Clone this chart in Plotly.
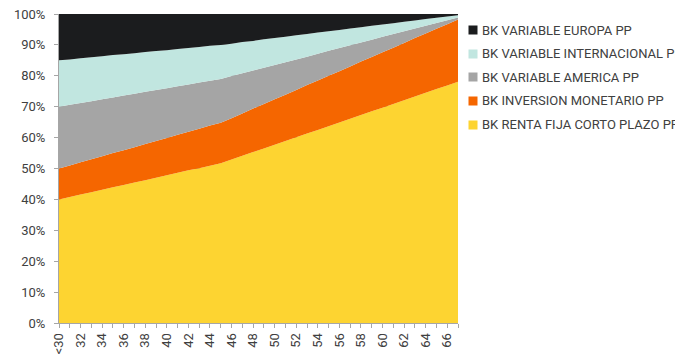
import plotly.graph_objects as go

# Age buckets of the glide path
ages = ["<30"] + [str(a) for a in range(31, 68)]

# Allocation (% of portfolio) per fund and age
renta_fija = [40.0, 40.8, 41.6, 42.3, 43.1, 43.9, 44.7, 45.5, 46.2, 47.0,
              47.8, 48.6, 49.4, 50.1, 50.9, 51.7, 52.9, 54.1, 55.3, 56.5,
              57.7, 58.9, 60.1, 61.3, 62.5, 63.7, 64.9, 66.1, 67.3, 68.5,
              69.7, 70.9, 72.1, 73.3, 74.5, 75.7, 76.9, 78.1]
monetario = [10.0, 10.2, 10.4, 10.7, 10.9, 11.1, 11.2, 11.4, 11.7, 11.9,
             12.1, 12.3, 12.5, 12.8, 13.0, 13.1, 13.4, 13.7, 14.1, 14.4,
             14.7, 15.0, 15.3, 15.7, 16.0, 16.3, 16.6, 16.9, 17.3, 17.6,
             17.9, 18.2, 18.5, 18.9, 19.2, 19.5, 19.8, 20.1]
america = [20.0, 19.6, 19.2, 18.8, 18.4, 18.0, 17.7, 17.3, 16.9, 16.5,
           16.1, 15.7, 15.3, 14.9, 14.5, 14.2, 13.6, 13.0, 12.3, 11.7,
           11.1, 10.5, 9.9, 9.2, 8.6, 8.1, 7.5, 6.9, 6.2, 5.6,
           5.0, 4.4, 3.8, 3.1, 2.5, 1.9, 1.3, 0.7]
internacional = [15.0, 14.7, 14.5, 14.2, 13.9, 13.7, 13.4, 13.1, 12.9, 12.6,
                 12.3, 12.1, 11.8, 11.5, 11.3, 11.0, 10.5, 10.1, 9.6, 9.2,
                 8.7, 8.2, 7.8, 7.3, 6.9, 6.3, 5.8, 5.4, 4.9, 4.5,
                 4.0, 3.5, 3.1, 2.6, 2.2, 1.7, 1.2, 0.7]
europa = [15.0, 14.7, 14.3, 14.0, 13.7, 13.3, 13.0, 12.7, 12.3, 12.0,
          11.7, 11.3, 11.0, 10.7, 10.3, 10.0, 9.6, 9.1, 8.7, 8.2,
          7.8, 7.4, 6.9, 6.5, 6.0, 5.6, 5.2, 4.7, 4.3, 3.8,
          3.4, 3.0, 2.5, 2.1, 1.6, 1.2, 0.8, 0.4]

series = [
    ("BK RENTA FIJA CORTO PLAZO PP", renta_fija, "#fdd431"),
    ("BK INVERSION MONETARIO PP", monetario, "#f56600"),
    ("BK VARIABLE AMERICA PP", america, "#a5a5a5"),
    ("BK VARIABLE INTERNACIONAL PP", internacional, "#c1e6e0"),
    ("BK VARIABLE EUROPA PP", europa, "#1b1c1e"),
]

FONT = "Roboto, Liberation Sans, sans-serif"
TEXT = "#404040"

fig = go.Figure()

# 100% stacked areas
for name, vals, color in series:
    fig.add_trace(go.Scatter(
        x=ages, y=vals, name=name, stackgroup="one", groupnorm="percent",
        mode="none", fillcolor=color,
    ))

# Legend on the right: square swatch + label, top of stack first
LEG_SWATCH_X = 1.038   # paper x of swatch centre
LEG_TEXT_X = 1.058     # paper x of label start
LEG_TOP_Y = 0.948      # paper y of first row
LEG_STEP = 0.0765      # row spacing in paper units
annotations = []
for row, (name, vals, color) in enumerate(reversed(series)):
    y = LEG_TOP_Y - row * LEG_STEP
    annotations.append(dict(
        xref="paper", yref="paper", x=LEG_SWATCH_X, y=y,
        xanchor="center", yanchor="middle", text=" ", showarrow=False,
        width=8, height=8, bgcolor=color, borderpad=0,
        font=dict(size=1),
    ))
    annotations.append(dict(
        xref="paper", yref="paper", x=LEG_TEXT_X, y=y,
        xanchor="left", yanchor="middle", text=name, showarrow=False,
        borderpad=0, font=dict(family=FONT, size=13, color=TEXT),
    ))

fig.update_layout(
    width=675, height=358,
    margin=dict(l=59, r=217, t=14, b=35, autoexpand=False),
    paper_bgcolor="white", plot_bgcolor="white",
    font=dict(family=FONT, size=13, color=TEXT),
    showlegend=False,
    annotations=annotations,
)

fig.update_xaxes(
    type="category", range=[0, len(ages) - 1],
    tickmode="array", tickvals=ages,
    ticktext=[a if i % 2 == 0 else "" for i, a in enumerate(ages)],
    tickangle=-90, ticks="outside", ticklen=4, tickcolor="#a6a6a6",
    showline=True, linecolor="#a6a6a6", linewidth=1,
    showgrid=False, tickfont=dict(size=13, color=TEXT),
)
fig.update_yaxes(
    range=[0, 100], dtick=10, ticksuffix="%",
    ticks="outside", ticklen=4, tickcolor="#a6a6a6",
    ticklabelstandoff=6,
    showline=True, linecolor="#a6a6a6", linewidth=1,
    showgrid=True, gridcolor="#a6a6a6", gridwidth=1,
    zeroline=False, tickfont=dict(size=13, color=TEXT),
)

fig.write_html("out.html")
